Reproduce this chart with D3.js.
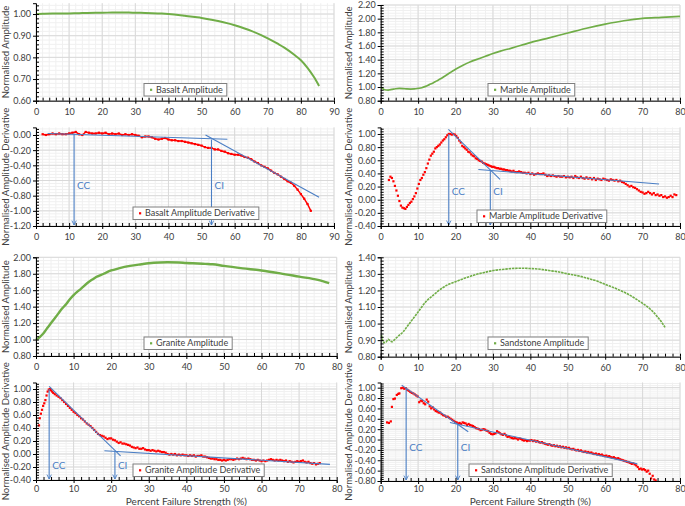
<!DOCTYPE html>
<html>
<head>
<meta charset="utf-8">
<script src="https://cdn.jsdelivr.net/npm/d3@7"></script>
<style>
  body { margin: 0; background: #fff; }
  svg { display: block; }
  text { font-family: Lato, "Liberation Sans", sans-serif; }
</style>
</head>
<body>
<svg id="chart" width="685" height="506"></svg>
<script>
// Amplitude curves [percent failure strength, normalised amplitude]
const basaltAmplitude = [[0,1.000],[2,1.001],[5,1.002],[8,1.002],[10,1.003],[13,1.004],[15,1.005],[18,1.006],[20,1.006],[23,1.007],[25,1.007],[28,1.007],[30,1.006],[33,1.005],[35,1.004],[38,1.002],[40,1.000],[43,0.996],[45,0.992],[48,0.986],[50,0.982],[53,0.974],[55,0.968],[58,0.957],[60,0.948],[63,0.933],[65,0.922],[68,0.903],[70,0.888],[73,0.863],[75,0.845],[78,0.812],[80,0.787],[82,0.752],[84,0.708],[85.5,0.668]];
const marbleAmplitude = [[0,1.00],[0.5,0.98],[1,0.96],[2,0.955],[3,0.965],[4,0.975],[5,0.98],[6,0.978],[7,0.972],[8,0.97],[9,0.972],[10,0.98],[11,0.99],[12,1.01],[13,1.035],[14,1.06],[15,1.09],[16,1.12],[17,1.155],[18,1.19],[19,1.225],[20,1.26],[22,1.32],[24,1.37],[26,1.41],[28,1.45],[30,1.49],[32,1.525],[35,1.57],[40,1.65],[45,1.72],[50,1.79],[55,1.86],[60,1.92],[65,1.97],[70,2.005],[75,2.02],[80,2.035]];
const graniteAmplitude = [[0,0.995],[1,1.03],[2,1.076],[3,1.14],[4,1.20],[5,1.26],[6,1.32],[7,1.38],[8,1.43],[9,1.49],[10,1.54],[12,1.62],[14,1.70],[15,1.73],[16,1.76],[18,1.80],[20,1.84],[22,1.865],[25,1.895],[28,1.915],[30,1.927],[33,1.937],[35,1.94],[38,1.937],[40,1.93],[43,1.925],[45,1.92],[47,1.915],[50,1.895],[55,1.866],[60,1.84],[65,1.805],[70,1.765],[75,1.725],[78,1.685]];
const sandstoneAmplitude = [[0.2,0.93],[0.7,0.89],[1,0.885],[1.5,0.89],[2,0.905],[2.5,0.897],[3,0.89],[4,0.91],[5,0.93],[6,0.95],[7,0.98],[8,1.01],[9,1.04],[10,1.07],[12,1.13],[14,1.17],[15,1.19],[18,1.235],[20,1.253],[22,1.27],[25,1.293],[28,1.31],[30,1.32],[33,1.328],[35,1.332],[38,1.334],[40,1.332],[43,1.327],[45,1.32],[48,1.31],[50,1.30],[53,1.287],[55,1.275],[58,1.255],[60,1.237],[63,1.21],[65,1.19],[68,1.152],[70,1.122],[72,1.088],[73,1.066],[74,1.04],[75,1.011],[76,0.977]];

// Amplitude derivative series
const basaltDerivative = [[2,0.01],[3,0.00],[4,0.01],[5,0.02],[6,0.01],[7,0.02],[8,0.01],[9,0.01],[10,0.02],[11,0.03],[12,0.04],[13,0.01],[14,0.00],[15,0.04],[16,0.03],[17,0.02],[18,0.02],[19,0.03],[20,0.02],[21,0.03],[22,0.01],[23,0.02],[24,0.01],[25,0.02],[26,0.00],[27,0.01],[28,0.00],[29,0.01],[30,0.00],[31,-0.01],[32,-0.03],[33,-0.02],[34,-0.02],[35,-0.03],[36,-0.05],[37,-0.06],[38,-0.05],[39,-0.04],[40,-0.06],[41,-0.07],[42,-0.07],[43,-0.08],[44,-0.08],[45,-0.09],[46,-0.10],[47,-0.11],[48,-0.12],[49,-0.13],[50,-0.14],[51,-0.16],[52,-0.17],[53,-0.17],[54,-0.19],[55,-0.19],[56,-0.21],[57,-0.22],[58,-0.24],[59,-0.25],[60,-0.26],[61,-0.26],[62,-0.27],[63,-0.29],[64,-0.30],[65,-0.32],[66,-0.35],[67,-0.37],[68,-0.40],[69,-0.42],[70,-0.44],[71,-0.47],[72,-0.50],[73,-0.52],[74,-0.55],[75,-0.58],[76,-0.61],[77,-0.63],[78,-0.67],[79,-0.72],[80,-0.78],[81,-0.84],[82,-0.91],[83,-1.00]];
const marbleDerivative = [[2.2,0.30],[2.6,0.35],[3.0,0.33],[3.4,0.28],[3.8,0.21],[4.2,0.14],[4.6,0.06],[5.0,-0.02],[5.4,-0.09],[5.8,-0.12],[6.2,-0.13],[6.6,-0.14],[7.0,-0.11],[7.4,-0.08],[7.8,-0.05],[8.2,-0.03],[8.6,0.01],[9.0,0.05],[9.4,0.10],[9.8,0.17],[10.2,0.24],[10.6,0.30],[11.0,0.33],[11.4,0.38],[11.8,0.42],[12.2,0.48],[12.6,0.55],[13.0,0.61],[13.4,0.67],[13.8,0.70],[14.2,0.73],[14.6,0.78],[15.0,0.80],[15.4,0.82],[15.8,0.84],[16.2,0.87],[16.6,0.90],[17.0,0.92],[17.4,0.95],[17.8,0.98],[18.2,1.00],[18.6,1.00],[19.0,0.99],[19.4,1.00],[19.8,0.99],[20.2,0.97],[20.6,0.94],[21.0,0.90],[21.4,0.87],[21.8,0.82],[22.2,0.80],[22.6,0.78],[23.0,0.76],[23.4,0.73],[23.8,0.72],[24.2,0.69],[24.6,0.67],[25.0,0.66],[25.4,0.63],[25.8,0.62],[26.2,0.60],[26.6,0.59],[27.0,0.58],[27.4,0.56],[27.8,0.55],[28.2,0.54],[28.6,0.53],[29.0,0.52],[29.4,0.51],[29.8,0.50],[30.2,0.50],[30.6,0.49],[31.0,0.48],[31.4,0.48],[31.8,0.47],[32.2,0.47],[32.6,0.46],[33.0,0.46],[33.4,0.45],[33.8,0.45],[34.2,0.44],[34.6,0.44],[35.0,0.43],[35.5,0.44],[36.0,0.42],[36.5,0.42],[37.0,0.43],[37.5,0.42],[38.0,0.41],[38.5,0.41],[39.0,0.40],[39.5,0.41],[40.0,0.39],[40.5,0.40],[41.0,0.38],[41.5,0.39],[42.0,0.40],[42.5,0.39],[43.0,0.39],[43.5,0.40],[44.0,0.38],[44.5,0.36],[45.0,0.37],[45.5,0.36],[46,0.37],[46.5,0.36],[47,0.35],[47.5,0.36],[48,0.35],[48.5,0.35],[49,0.36],[49.5,0.34],[50,0.35],[50.5,0.34],[51,0.35],[51.5,0.33],[52,0.36],[52.5,0.34],[53,0.33],[53.5,0.35],[54,0.33],[54.5,0.32],[55,0.34],[55.5,0.32],[56,0.33],[56.5,0.31],[57,0.33],[57.5,0.30],[58,0.32],[58.5,0.31],[59,0.30],[59.5,0.32],[60,0.31],[60.5,0.30],[61,0.29],[61.5,0.31],[62,0.30],[62.5,0.29],[63,0.30],[63.5,0.28],[64,0.29],[64.5,0.27],[65,0.26],[65.5,0.24],[66,0.22],[66.5,0.20],[67,0.21],[67.5,0.19],[68,0.18],[68.5,0.16],[69,0.14],[69.5,0.12],[70,0.11],[70.5,0.09],[71,0.10],[71.5,0.12],[72,0.10],[72.5,0.08],[73,0.10],[73.5,0.07],[74,0.08],[74.5,0.06],[75,0.07],[75.5,0.04],[76,0.05],[76.5,0.03],[77,0.04],[77.5,0.06],[78,0.04],[78.5,0.08],[79,0.07]];
const graniteDerivative = [[0.8,0.44],[1.0,0.55],[1.3,0.62],[1.6,0.68],[1.9,0.74],[2.2,0.78],[2.5,0.83],[2.8,0.90],[3.1,0.96],[3.4,0.99],[3.7,1.00],[4.0,0.98],[4.3,0.96],[4.6,0.94],[5.0,0.92],[5.5,0.90],[6.0,0.88],[6.5,0.86],[7.0,0.83],[7.5,0.80],[8.0,0.77],[8.5,0.74],[9.0,0.71],[9.5,0.68],[10.0,0.65],[10.5,0.63],[11.0,0.60],[11.5,0.58],[12.0,0.55],[12.5,0.53],[13.0,0.50],[13.5,0.47],[14.0,0.45],[14.5,0.43],[15.0,0.40],[15.5,0.37],[16.0,0.34],[16.5,0.31],[17.0,0.29],[17.5,0.28],[18.0,0.27],[18.5,0.25],[19.0,0.23],[19.5,0.24],[20.0,0.24],[20.5,0.22],[21.0,0.21],[21.5,0.19],[22.0,0.17],[22.5,0.18],[23.0,0.16],[23.5,0.16],[24.0,0.15],[24.5,0.14],[25.0,0.13],[25.5,0.11],[26.0,0.10],[26.5,0.09],[27.0,0.10],[27.5,0.08],[28.0,0.08],[28.5,0.09],[29.0,0.07],[29.5,0.06],[30.0,0.06],[30.5,0.05],[31.0,0.06],[31.5,0.05],[32.0,0.04],[32.5,0.05],[33.0,0.04],[33.5,0.03],[34.0,0.03],[34.5,0.02],[35.0,0.00],[35.5,-0.01],[36.0,0.00],[36.5,-0.01],[37.0,0.00],[37.5,-0.02],[38.0,-0.01],[38.5,-0.02],[39.0,-0.01],[39.5,-0.02],[40.0,-0.02],[40.5,-0.03],[41.0,-0.02],[41.5,-0.03],[42.0,-0.02],[42.5,-0.04],[43.0,-0.03],[43.5,-0.03],[44.0,-0.02],[44.5,-0.04],[45.0,-0.04],[45.5,-0.05],[46.0,-0.06],[46.5,-0.07],[47.0,-0.07],[47.5,-0.08],[48.0,-0.08],[48.5,-0.09],[49.0,-0.09],[49.5,-0.10],[50.0,-0.09],[50.5,-0.10],[51.0,-0.09],[51.5,-0.08],[52.0,-0.08],[52.5,-0.09],[53.0,-0.08],[53.5,-0.07],[54.0,-0.08],[54.5,-0.07],[55.0,-0.06],[55.5,-0.07],[56.0,-0.08],[56.5,-0.07],[57.0,-0.08],[57.5,-0.09],[58.0,-0.09],[58.5,-0.10],[59.0,-0.09],[59.5,-0.10],[60.0,-0.11],[60.5,-0.10],[61.0,-0.11],[61.5,-0.10],[62.0,-0.09],[62.5,-0.08],[63.0,-0.09],[63.5,-0.10],[64.0,-0.09],[64.5,-0.10],[65.0,-0.09],[65.5,-0.10],[66.0,-0.11],[66.5,-0.10],[67.0,-0.12],[67.5,-0.11],[68.0,-0.12],[68.5,-0.13],[69.0,-0.12],[69.5,-0.11],[70.0,-0.12],[70.5,-0.11],[71.0,-0.10],[71.5,-0.12],[72.0,-0.13],[72.5,-0.12],[73.0,-0.14],[73.5,-0.15],[74.0,-0.14],[74.5,-0.16],[75.0,-0.15],[75.5,-0.14]];
const sandstoneDerivative = [[1.7,0.33],[2.2,0.32],[2.7,0.35],[3.0,0.63],[3.4,0.78],[3.8,0.79],[4.3,0.86],[4.7,0.88],[5.0,0.89],[5.5,0.99],[5.9,1.00],[6.3,0.98],[6.7,0.99],[7.1,0.96],[7.5,0.94],[7.9,0.92],[8.3,0.90],[8.7,0.89],[9.1,0.87],[9.5,0.85],[9.9,0.83],[10.3,0.72],[10.7,0.75],[11.1,0.74],[11.5,0.70],[11.9,0.68],[12.3,0.77],[12.7,0.73],[13.1,0.64],[13.5,0.60],[13.9,0.62],[14.3,0.58],[14.7,0.55],[15.1,0.54],[15.5,0.52],[15.9,0.52],[16.3,0.49],[16.7,0.47],[17.1,0.46],[17.5,0.44],[17.9,0.44],[18.3,0.42],[18.7,0.40],[19.1,0.38],[19.5,0.36],[19.9,0.34],[20.3,0.33],[20.7,0.31],[21.1,0.32],[21.5,0.30],[21.9,0.33],[22.3,0.32],[22.7,0.31],[23.1,0.28],[23.5,0.30],[23.9,0.28],[24.3,0.27],[24.7,0.26],[25.1,0.24],[25.5,0.22],[25.9,0.21],[26.3,0.20],[26.7,0.18],[27.1,0.19],[27.5,0.20],[27.9,0.19],[28.3,0.17],[28.7,0.16],[29.1,0.13],[29.5,0.11],[29.9,0.10],[30.3,0.11],[30.7,0.12],[31.1,0.16],[31.5,0.14],[31.9,0.12],[32.3,0.10],[32.7,0.09],[33.1,0.11],[33.5,0.08],[33.9,0.05],[34.3,0.06],[34.7,0.04],[35.1,0.03],[35.5,0.02],[35.9,0.03],[36.3,0.02],[36.7,0.00],[37.1,0.02],[37.5,0.01],[37.9,-0.01],[38.3,-0.02],[38.7,-0.01],[39.1,-0.03],[39.5,-0.02],[39.9,-0.02],[40.3,-0.01],[40.7,-0.03],[41.1,-0.02],[41.5,-0.04],[41.9,-0.03],[42.3,-0.05],[42.7,-0.06],[43.1,-0.05],[43.5,-0.07],[43.9,-0.08],[44.3,-0.09],[44.7,-0.10],[45.1,-0.09],[45.5,-0.11],[45.9,-0.12],[46.3,-0.11],[46.7,-0.13],[47.1,-0.12],[47.5,-0.14],[47.9,-0.13],[48.3,-0.15],[48.7,-0.14],[49.1,-0.16],[49.5,-0.15],[49.9,-0.17],[50.3,-0.16],[50.7,-0.18],[51.1,-0.19],[51.5,-0.18],[51.9,-0.20],[52.3,-0.21],[52.7,-0.20],[53.1,-0.22],[53.5,-0.21],[53.9,-0.23],[54.3,-0.24],[54.7,-0.23],[55.1,-0.25],[55.5,-0.24],[55.9,-0.26],[56.3,-0.25],[56.7,-0.27],[57.1,-0.28],[57.5,-0.27],[57.9,-0.29],[58.3,-0.28],[58.7,-0.30],[59.1,-0.29],[59.5,-0.31],[59.9,-0.32],[60.3,-0.31],[60.7,-0.33],[61.1,-0.32],[61.5,-0.34],[61.9,-0.35],[62.3,-0.34],[62.7,-0.36],[63.1,-0.37],[63.5,-0.36],[63.9,-0.38],[64.3,-0.39],[64.7,-0.40],[65.1,-0.41],[65.5,-0.42],[65.9,-0.43],[66.3,-0.44],[66.7,-0.45],[67.1,-0.47],[67.5,-0.46],[67.9,-0.48],[68.3,-0.50],[68.7,-0.53],[69.1,-0.57],[69.5,-0.56],[69.9,-0.58],[70.3,-0.57],[70.7,-0.59],[71.1,-0.62],[71.5,-0.60],[71.9,-0.66],[72.3,-0.75],[72.7,-0.70],[73.1,-0.77],[73.5,-0.79]];

// Tangent lines and the CC / CI points
const basaltTangents = [[[3.5,0.02],[57.8,-0.057]], [[51.2,0.0],[85.5,-0.82]]];
const marbleTangents = [[[18.1,1.07],[31.9,0.31]], [[26.1,0.46],[74.4,0.24]]];
const graniteTangents = [[[3.5,1.04],[22.5,-0.03]], [[18.2,0.05],[78.2,-0.16]]];
const sandstoneTangents = [[[5.6,1.05],[23.4,0.15]], [[18.5,0.33],[68.6,-0.47]]];

const basaltPoints = [{label:"CC", x:11.5, y:0.02}, {label:"CI", x:53, y:-0.06}];
const marblePoints = [{label:"CC", x:18.2, y:1.00}, {label:"CI", x:29.3, y:0.44}];
const granitePoints = [{label:"CC", x:3.5, y:1.00}, {label:"CI", x:21, y:0.04}];
const sandstonePoints = [{label:"CC", x:6.8, y:1.00}, {label:"CI", x:20.6, y:0.28}];

const config = {
    green: "#70ad47",
    red: "#ff0000",
    blue: "#4a7ec4",
    grid: "#d9d9d9",
    minorGrid: "#f0f0f0",
    text: "#404040"
};

// layout of the 8 sub charts (pixel boxes of each plot area)
const panels = [
    { data: basaltAmplitude, name: "Basalt Amplitude", kind: "amp", width: 2, xMax: 90, yMin: 0.6, yMax: 1.05, yStep: 0.1,
      left: 36, right: 334, top: 3.2, bottom: 100.7, gap: 11, legend: [144, 83.5], yTitle: "Normalised Amplitude", titleX: 6 },
    { data: marbleAmplitude, name: "Marble Amplitude", kind: "amp", width: 1.7, xMax: 80, yMin: 0.8, yMax: 2.2, yStep: 0.2,
      left: 380.7, right: 680, top: 5, bottom: 100.7, gap: 11, legend: [488, 83.5], yTitle: "Normalised Amplitude", titleX: 349 },
    { data: basaltDerivative, name: "Basalt Amplitude Derivative", kind: "der", xMax: 90, yMin: -1.2, yMax: 0.1, yStep: 0.2,
      left: 36, right: 334, top: 127.4, bottom: 226, gap: 11, legend: [133, 207], yTitle: "Normalised Amplitude Derivative", titleX: 6,
      tangents: basaltTangents, points: basaltPoints, labelY: -0.66, line: true },
    { data: marbleDerivative, name: "Marble Amplitude Derivative", kind: "der", xMax: 80, yMin: -0.4, yMax: 1.1, yStep: 0.2,
      left: 380.7, right: 680, top: 127.4, bottom: 226, gap: 11, legend: [477, 210], yTitle: "Normalised Amplitude Derivative", titleX: 349,
      tangents: marbleTangents, points: marblePoints, labelY: 0.13 },
    { data: graniteAmplitude, name: "Granite Amplitude", kind: "amp", width: 2.4, xMax: 80, yMin: 0.8, yMax: 2.0, yStep: 0.2,
      left: 36, right: 336.7, top: 257.3, bottom: 356, gap: 11, legend: [144, 337], yTitle: "Normalised Amplitude", titleX: 6 },
    { data: sandstoneAmplitude, name: "Sandstone Amplitude", kind: "amp", width: 1.6, dash: "2.5,0.8", xMax: 80, yMin: 0.8, yMax: 1.4, yStep: 0.1,
      left: 380.7, right: 680, top: 257.3, bottom: 356.7, gap: 11, legend: [488, 337], yTitle: "Normalised Amplitude", titleX: 349 },
    { data: graniteDerivative, name: "Granite Amplitude Derivative", kind: "der", xMax: 80, yMin: -0.4, yMax: 1.1, yStep: 0.2,
      left: 36, right: 336.7, top: 382.5, bottom: 480, gap: 8.5, legend: [133, 464], yTitle: "Normalised Amplitude Derivative", titleX: 6,
      tangents: graniteTangents, points: granitePoints, labelY: -0.17, xTitle: "Percent Failure Strength (%)" },
    { data: sandstoneDerivative, name: "Sandstone Amplitude Derivative", kind: "der", xMax: 80, yMin: -0.8, yMax: 1.1, yStep: 0.2,
      left: 380.7, right: 680, top: 382.5, bottom: 481, gap: 8, legend: [469, 464], yTitle: "Normalised Amplitude Derivative", titleX: 349,
      tangents: sandstoneTangents, points: sandstonePoints, labelY: -0.15, xTitle: "Percent Failure Strength (%)" }
];

const svg = d3.select("#chart");

const defs = svg.append("defs");
defs.append("marker")
    .attr("id", "arrow")
    .attr("viewBox", "0 0 10 10")
    .attr("refX", 9).attr("refY", 5)
    .attr("markerWidth", 5).attr("markerHeight", 5)
    .attr("orient", "auto")
    .append("path")
    .attr("d", "M1,1 L9,5 L1,9")
    .attr("fill", "none")
    .attr("stroke", config.blue)
    .attr("stroke-width", 1.6);

function fmt(v) {
    const r = Math.round(v * 100) / 100;
    return (r === 0 ? 0 : r).toFixed(2);
}

panels.forEach(drawPanel);

function drawPanel(p) {
    const x = d3.scaleLinear().domain([0, p.xMax]).range([p.left, p.right]);
    const y = d3.scaleLinear().domain([p.yMin, p.yMax]).range([p.bottom, p.top]);
    const g = svg.append("g");

    const xMajor = d3.range(0, p.xMax + 0.001, 10);
    const xMinor = d3.range(0, p.xMax + 0.001, 2);
    const yMajor = d3.range(0, Math.round((p.yMax - p.yMin) / p.yStep + 1e-6) + 1).map(i => p.yMin + i * p.yStep).filter(v => v <= p.yMax + 1e-6);
    const yMinorStep = p.yStep / 5;
    const yMinor = d3.range(0, Math.floor((p.yMax - p.yMin) / yMinorStep + 1e-6) + 1).map(i => p.yMin + i * yMinorStep);

    // gridlines
    g.append("g").selectAll("line").data(xMinor).join("line")
        .attr("x1", d => x(d)).attr("x2", d => x(d)).attr("y1", p.top).attr("y2", p.bottom)
        .attr("stroke", config.minorGrid).attr("stroke-width", 1);
    g.append("g").selectAll("line").data(yMinor).join("line")
        .attr("x1", p.left).attr("x2", p.right).attr("y1", d => y(d)).attr("y2", d => y(d))
        .attr("stroke", config.minorGrid).attr("stroke-width", 1);
    g.append("g").selectAll("line").data(xMajor).join("line")
        .attr("x1", d => x(d)).attr("x2", d => x(d)).attr("y1", p.top).attr("y2", p.bottom)
        .attr("stroke", config.grid).attr("stroke-width", 1);
    g.append("g").selectAll("line").data(yMajor).join("line")
        .attr("x1", p.left).attr("x2", p.right).attr("y1", d => y(d)).attr("y2", d => y(d))
        .attr("stroke", config.grid).attr("stroke-width", 1);

    // data
    if (p.kind === "amp") {
        g.append("path")
            .datum(p.data)
            .attr("d", d3.line().x(d => x(d[0])).y(d => y(d[1])).curve(d3.curveMonotoneX))
            .attr("fill", "none")
            .attr("stroke", config.green)
            .attr("stroke-width", p.width)
            .attr("stroke-dasharray", p.dash || null);
    } else {
        if (p.line) {
            g.append("path")
                .datum(p.data)
                .attr("d", d3.line().x(d => x(d[0])).y(d => y(d[1])))
                .attr("fill", "none")
                .attr("stroke", config.red)
                .attr("stroke-width", 1.5);
        }
        g.append("g").selectAll("rect").data(p.data).join("rect")
            .attr("x", d => x(d[0]) - 1.1).attr("y", d => y(d[1]) - 1.1)
            .attr("width", 2.2).attr("height", 2.2)
            .attr("fill", config.red);

        g.append("g").selectAll("line").data(p.tangents).join("line")
            .attr("x1", d => x(d[0][0])).attr("y1", d => y(d[0][1]))
            .attr("x2", d => x(d[1][0])).attr("y2", d => y(d[1][1]))
            .attr("stroke", config.blue).attr("stroke-width", 1.1);

        const pt = g.append("g").selectAll("g").data(p.points).join("g");
        pt.append("line")
            .attr("x1", d => x(d.x)).attr("x2", d => x(d.x))
            .attr("y1", d => y(d.y)).attr("y2", p.bottom - 1)
            .attr("stroke", config.blue).attr("stroke-width", 1.1)
            .attr("marker-end", "url(#arrow)");
        pt.append("text")
            .attr("x", d => x(d.x) + 3)
            .attr("y", y(p.labelY))
            .attr("dy", "0.35em")
            .attr("fill", config.blue)
            .attr("font-size", 10)
            .text(d => d.label);
    }

    // axes
    const yAxis = g.append("g").attr("transform", `translate(${p.left},0)`)
        .call(d3.axisLeft(y).tickValues(yMajor).tickSize(3).tickPadding(2).tickFormat(fmt));
    g.append("g").attr("transform", `translate(${p.left},0)`)
        .call(d3.axisRight(y).tickValues(yMinor).tickSize(3).tickSizeOuter(0).tickFormat(""))
        .select(".domain").remove();
    const xAxis = g.append("g").attr("transform", `translate(0,${p.bottom})`)
        .call(d3.axisBottom(x).tickValues(xMajor).tickSize(3).tickPadding(p.gap - 6).tickFormat(d3.format("d")));
    g.append("g").attr("transform", `translate(0,${p.bottom})`)
        .call(d3.axisTop(x).tickValues(xMinor).tickSize(3).tickSizeOuter(0).tickFormat(""))
        .select(".domain").remove();

    g.selectAll(".domain").attr("stroke", "#000");
    g.selectAll(".tick line").attr("stroke", "#000");
    [yAxis, xAxis].forEach(a => a.selectAll("text")
        .attr("font-size", 9).attr("fill", config.text)
        .attr("font-family", "Lato, 'Liberation Sans', sans-serif"));

    // axis titles
    g.append("text")
        .attr("transform", `translate(${p.titleX},${(p.top + p.bottom) / 2}) rotate(-90)`)
        .attr("text-anchor", "middle")
        .attr("dy", "0.35em")
        .attr("font-size", 9.5)
        .attr("fill", config.text)
        .text(p.yTitle);
    if (p.xTitle) {
        g.append("text")
            .attr("x", (p.left + p.right) / 2)
            .attr("y", 501)
            .attr("dy", "0.35em")
            .attr("text-anchor", "middle")
            .attr("font-size", 10)
            .attr("fill", config.text)
            .text(p.xTitle);
    }

    // legend
    const lg = g.append("g").attr("transform", `translate(${p.legend[0]},${p.legend[1]})`);
    const box = lg.append("rect").attr("height", 12.5)
        .attr("fill", "#fff").attr("stroke", "#7f7f7f").attr("stroke-width", 1);
    lg.append("rect").attr("x", 6).attr("y", 5.2).attr("width", 2.2).attr("height", 2.2)
        .attr("fill", p.kind === "amp" ? config.green : config.red);
    const lt = lg.append("text").attr("x", 12).attr("y", 6.3).attr("dy", "0.35em")
        .attr("font-size", 9).attr("fill", config.text).text(p.name);
    box.attr("width", lt.node().getComputedTextLength() + 16);
}
</script>
</body>
</html>
